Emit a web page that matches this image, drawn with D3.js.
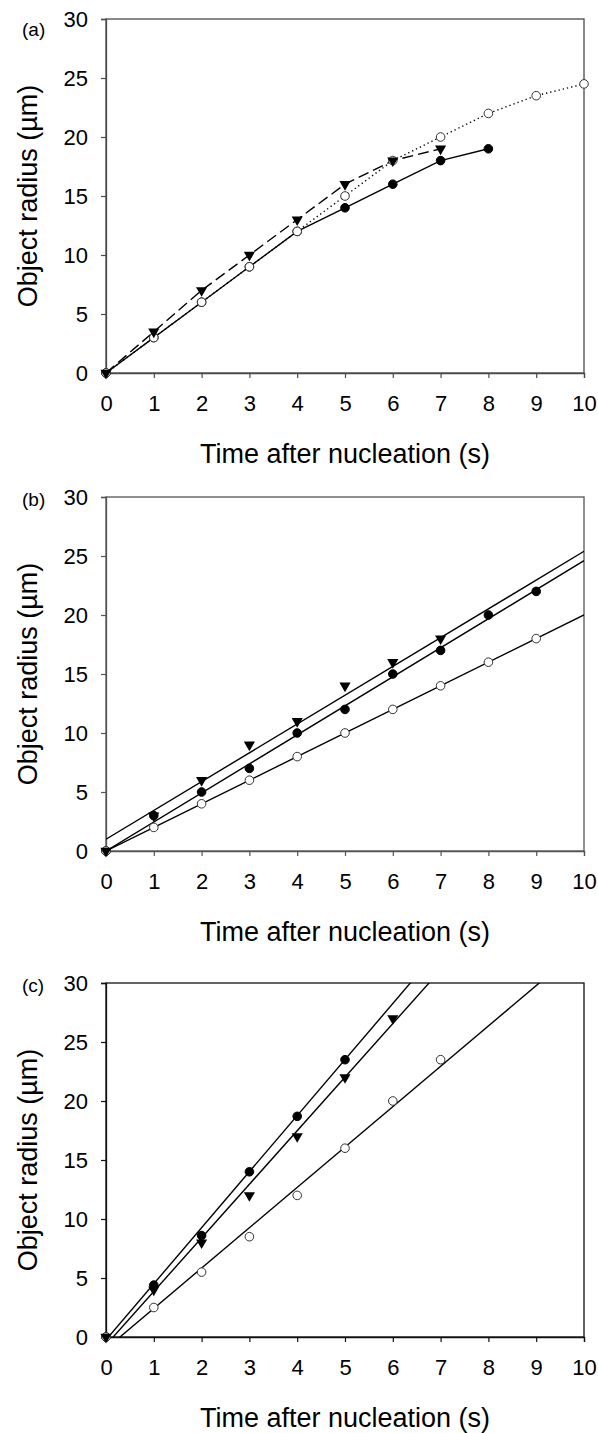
<!DOCTYPE html>
<html>
<head>
<meta charset="utf-8">
<script src="https://cdn.jsdelivr.net/npm/d3@7"></script>
<style>
  body { margin: 0; background: #fff; }
  svg { display: block; font-family: Arial, "Liberation Sans", sans-serif; }
</style>
</head>
<body>
<div id="chart"></div>
<script>
// ---- data ----
// panel (a)
const aOpenX = [0, 1, 2, 3, 4, 5, 6, 7, 8, 9, 10];
const aOpenY = [0, 3, 6, 9, 12, 15, 18, 20, 22, 23.5, 24.5];
const aFilledX = [0, 1, 2, 3, 4, 5, 6, 7, 8];
const aFilledY = [0, 3, 6, 9, 12, 14, 16, 18, 19];
const aTriX = [0, 1, 2, 3, 4, 5, 6, 7];
const aTriY = [0, 3.5, 7, 10, 13, 16, 18, 19];

// panel (b)
const bOpenX = [0, 1, 2, 3, 4, 5, 6, 7, 8, 9];
const bOpenY = [0, 2, 4, 6, 8, 10, 12, 14, 16, 18];
const bFilledX = [0, 1, 2, 3, 4, 5, 6, 7, 8, 9];
const bFilledY = [0, 3, 5, 7, 10, 12, 15, 17, 20, 22];
const bTriX = [0, 1, 2, 3, 4, 5, 6, 7];
const bTriY = [0, 3, 6, 9, 11, 14, 16, 18];
// fitted lines (slope, intercept) for open / filled / triangle
const bFitSlope = [2.0, 2.46, 2.44];
const bFitIntercept = [0, 0, 1.0];

// panel (c)
const cOpenX = [0, 1, 2, 3, 4, 5, 6, 7];
const cOpenY = [0, 2.5, 5.5, 8.5, 12, 16, 20, 23.5];
const cFilledX = [0, 1, 2, 3, 4, 5];
const cFilledY = [0, 4.4, 8.6, 14, 18.7, 23.5];
const cTriX = [0, 1, 2, 3, 4, 5, 6];
const cTriY = [0, 4, 8, 12, 17, 22, 27];
const cFitSlope = [3.42, 4.75, 4.54];
const cFitIntercept = [-1.0, -0.24, -0.68];

const xTicks = [0, 1, 2, 3, 4, 5, 6, 7, 8, 9, 10];
const yTicks = [0, 5, 10, 15, 20, 25, 30];
const panelLabels = ["(a)", "(b)", "(c)"];
const xTitle = "Time after nucleation (s)";
const yTitle = "Object radius (\u00b5m)";

// ---- layout ----
const width = 598, height = 1433;
const plotLeft = 106, plotRight = 584;
const panelTops = [19, 497, 983];
const plotHeight = 354;
const tickFont = 22, titleFont = 27, labelFont = 19;
const axisColors = ["#4a4a4a", "#555555", "#111111"];

const zip = (xs, ys) => xs.map((x, i) => ({ x: x, y: ys[i] }));

const panels = [
  {
    series: [
      { pts: zip(aFilledX, aFilledY), marker: "filled", dash: null },
      { pts: zip(aOpenX, aOpenY), marker: "open", dash: "1.3,3" },
      { pts: zip(aTriX, aTriY), marker: "tri", dash: "11,5" },
    ],
    fits: null,
  },
  {
    series: [
      { pts: zip(bFilledX, bFilledY), marker: "filled" },
      { pts: zip(bOpenX, bOpenY), marker: "open" },
      { pts: zip(bTriX, bTriY), marker: "tri" },
    ],
    fits: bFitSlope.map((s, i) => ({ slope: s, intercept: bFitIntercept[i] })),
  },
  {
    series: [
      { pts: zip(cFilledX, cFilledY), marker: "filled" },
      { pts: zip(cOpenX, cOpenY), marker: "open" },
      { pts: zip(cTriX, cTriY), marker: "tri" },
    ],
    fits: cFitSlope.map((s, i) => ({ slope: s, intercept: cFitIntercept[i] })),
  },
];

const svg = d3.select("#chart")
  .append("svg")
  .attr("width", width)
  .attr("height", height);

const x = d3.scaleLinear().domain([0, 10]).range([plotLeft, plotRight]);

const triPath = d3.symbol(d3.symbolTriangle, 54)();

panels.forEach((panel, p) => {
  const top = panelTops[p];
  const bottom = top + plotHeight;
  const y = d3.scaleLinear().domain([0, 30]).range([bottom, top]);
  const col = axisColors[p];
  const g = svg.append("g").attr("class", "panel");

  // clip for fitted lines
  svg.append("defs").append("clipPath")
    .attr("id", `clip-${p}`)
    .append("rect")
    .attr("x", plotLeft)
    .attr("y", top)
    .attr("width", plotRight - plotLeft)
    .attr("height", plotHeight);

  // box (top + right)
  g.append("rect")
    .attr("x", plotLeft)
    .attr("y", top)
    .attr("width", plotRight - plotLeft)
    .attr("height", plotHeight)
    .attr("fill", "none")
    .attr("stroke", col)
    .attr("stroke-width", 1.3);

  // axes
  const yAxis = g.append("g")
    .attr("transform", `translate(${plotLeft},0)`)
    .call(d3.axisLeft(y).tickValues(yTicks).tickSize(5).tickPadding(13).tickFormat(d3.format("d")));
  const xAxis = g.append("g")
    .attr("transform", `translate(0,${bottom})`)
    .call(d3.axisBottom(x).tickValues(xTicks).tickSize(5).tickPadding(17).tickFormat(d3.format("d")));
  [yAxis, xAxis].forEach((ax) => {
    ax.select(".domain").attr("stroke", col).attr("stroke-width", 1.3);
    ax.selectAll(".tick line").attr("stroke", col).attr("stroke-width", 1.2);
    ax.selectAll(".tick text")
      .attr("fill", "#000")
      .style("font-size", tickFont + "px")
      .style("font-family", "Arial, 'Liberation Sans', sans-serif");
  });

  // titles
  g.append("text")
    .attr("x", (plotLeft + plotRight) / 2)
    .attr("y", bottom + 90)
    .attr("text-anchor", "middle")
    .style("font-size", titleFont + "px")
    .text(xTitle);

  g.append("text")
    .attr("transform", `translate(37,${(top + bottom) / 2}) rotate(-90)`)
    .attr("text-anchor", "middle")
    .style("font-size", titleFont + "px")
    .text(yTitle);

  g.append("text")
    .attr("x", 22)
    .attr("y", top + (p === 0 ? 17 : 9))
    .style("font-size", labelFont + "px")
    .text(panelLabels[p]);

  // lines
  const line = d3.line().x((d) => x(d.x)).y((d) => y(d.y));
  if (panel.fits) {
    g.append("g")
      .attr("clip-path", `url(#clip-${p})`)
      .selectAll("line.fit")
      .data(panel.fits)
      .join("line")
      .attr("class", "fit")
      .attr("x1", x(0))
      .attr("y1", (d) => y(d.intercept))
      .attr("x2", x(10))
      .attr("y2", (d) => y(d.intercept + d.slope * 10))
      .attr("stroke", "#000")
      .attr("stroke-width", 1.4);
  } else {
    panel.series.forEach((s) => {
      g.append("path")
        .datum(s.pts)
        .attr("d", line)
        .attr("fill", "none")
        .attr("stroke", "#000")
        .attr("stroke-width", 1.4)
        .attr("stroke-dasharray", s.dash);
    });
  }

  // markers
  panel.series.forEach((s) => {
    const mg = g.append("g").attr("class", "markers-" + s.marker);
    if (s.marker === "tri") {
      mg.selectAll("path")
        .data(s.pts)
        .join("path")
        .attr("d", triPath)
        .attr("transform", (d) => `translate(${x(d.x)},${y(d.y)}) rotate(180)`)
        .attr("fill", "#000");
    } else {
      mg.selectAll("circle")
        .data(s.pts)
        .join("circle")
        .attr("cx", (d) => x(d.x))
        .attr("cy", (d) => y(d.y))
        .attr("r", 4.3)
        .attr("fill", s.marker === "filled" ? "#000" : "#fff")
        .attr("stroke", s.marker === "filled" ? "#000" : "#333")
        .attr("stroke-width", 1);
    }
  });
});
</script>
</body>
</html>
